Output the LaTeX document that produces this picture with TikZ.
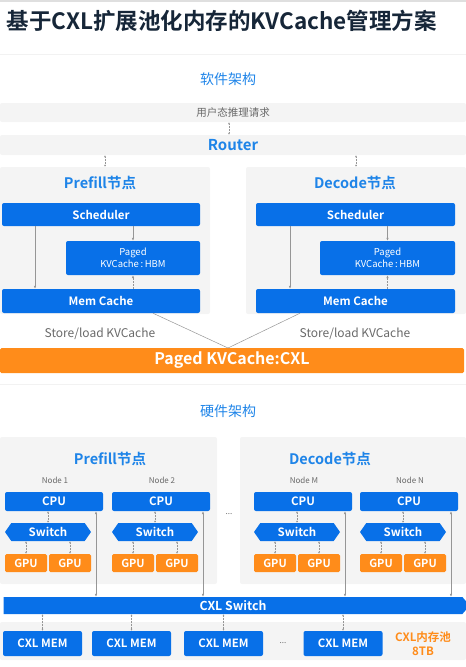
\documentclass[tikz,border=0pt]{standalone}
\usepackage{fontspec}
\setmainfont{Noto Sans CJK SC}[BoldFont={Noto Sans CJK SC Bold}]
\usetikzlibrary{arrows.meta,shapes.symbols}
\definecolor{hwblue}{RGB}{8,112,232}
\definecolor{headblue}{RGB}{30,132,232}
\definecolor{hworange}{RGB}{255,140,26}
\definecolor{panelgray}{RGB}{244,244,244}
\definecolor{titlenavy}{RGB}{22,38,56}
\definecolor{txtgray}{RGB}{105,105,105}
\definecolor{lngray}{RGB}{150,150,150}
\tikzset{blk/.style={fill=hwblue,rounded corners=2pt,text=white,inner sep=0pt,
    font=\bfseries\fontsize{11.5}{13}\selectfont},
  gpu/.style={fill=hworange,rounded corners=1.5pt,text=white,inner sep=0pt,
    minimum width=42,minimum height=18,font=\bfseries\fontsize{11}{13}\selectfont},
  sw/.style={fill=hwblue,signal,signal to=east and west,signal pointer angle=110,
    text=white,inner sep=0pt,minimum width=86,minimum height=18,
    font=\bfseries\fontsize{11.5}{13}\selectfont},
  panel/.style={fill=panelgray,rounded corners=2pt,inner sep=0pt},
  head/.style={text=headblue,font=\fontsize{14}{16}\selectfont},
  headb/.style={text=headblue,font=\bfseries\fontsize{14.5}{16}\selectfont},
  lbl/.style={text=txtgray,font=\fontsize{12}{14}\selectfont},
  nlbl/.style={text=txtgray,font=\fontsize{8}{9}\selectfont},
  arr/.style={-{Latex[length=3pt,width=2.4pt]},lngray,line width=.5pt},
  dblarr/.style={{Latex[length=2pt,width=2pt]}-{Latex[length=2pt,width=2pt]},lngray,
    line width=.5pt,densely dotted},
  busarr/.style={{Latex[length=3pt,width=2.4pt]}-{Latex[length=3pt,width=2.4pt]},lngray,
    line width=.5pt}}

\begin{document}
\begin{tikzpicture}[x=1pt,y=-1pt]
  \path[use as bounding box] (0,0) rectangle (466,667);
  \draw[gray!25,line width=2pt] (0,1)--(466,1);
  \draw[gray!10] (0,54)--(466,54); \draw[gray!10] (0,384)--(466,384);
  \node[anchor=west,text=titlenavy,font=\bfseries\fontsize{22.5}{25}\selectfont] (title) at (3,21)
    {基于CXL扩展池化内存的KVCache管理方案};

  \node[head] (swhead) at (228,79) {软件架构};
  \node[panel,minimum width=466,minimum height=19,text=txtgray,
    font=\fontsize{10.5}{12}\selectfont] (req) at (233,112.5) {用户态推理请求};
  \node[panel,minimum width=466,minimum height=20,text=headblue,
    font=\bfseries\fontsize{15}{17}\selectfont] (router) at (233,145) {Router};
  \draw[dblarr] (req.south -| 229,0) -- (router.north -| 229,0);

  \node[panel,minimum width=210,minimum height=147] (swpre) at (105,240.5) {};
  \node[panel,minimum width=220,minimum height=147] (swdec) at (356,240.5) {};
  \draw[dblarr] (router.south -| swpre) -- (swpre.north);
  \draw[dblarr] (router.south -| swdec) -- (swdec.north);

  \node[headb] (prehd) at (100,183) {Prefill节点};
  \node[blk,minimum width=198,minimum height=23] (sch1) at (101,214.5) {Scheduler};
  \node[blk,minimum width=134,minimum height=34,align=center,
    font=\fontsize{9.5}{12}\selectfont] (hbm1) at (133,258) {Paged\\KVCache\,:\,HBM};
  \node[blk,minimum width=198,minimum height=24] (mem1) at (101,301) {Mem Cache};
  \coordinate (l1) at (35,0);
  \draw[arr] (sch1.south -| l1) -- (mem1.north -| l1);
  \draw[arr] (sch1.south -| hbm1) -- (hbm1.north);
  \draw[arr,densely dotted] (mem1.north -| hbm1) -- (hbm1.south);

  \node[headb] (dechd) at (355,183) {Decode节点};
  \node[blk,minimum width=199,minimum height=23] (sch2) at (355.5,214.5) {Scheduler};
  \node[blk,minimum width=135,minimum height=34,align=center,
    font=\fontsize{9.5}{12}\selectfont] (hbm2) at (387.5,258) {Paged\\KVCache\,:\,HBM};
  \node[blk,minimum width=199,minimum height=24] (mem2) at (355.5,301) {Mem Cache};
  \coordinate (l2) at (290,0);
  \draw[arr] (sch2.south -| l2) -- (mem2.north -| l2);
  \draw[arr] (sch2.south -| hbm2) -- (hbm2.north);
  \draw[arr,densely dotted] (mem2.north -| hbm2) -- (hbm2.south);

  \node[lbl] (sl1) at (100,334) {Store/load KVCache};
  \node[lbl] (sl2) at (355,334) {Store/load KVCache};
  \node[fill=hworange,rounded corners=1.5pt,minimum width=464,minimum height=25,inner sep=0pt,
    text=white,font=\bfseries\fontsize{16}{18}\selectfont] (cxlkv) at (232,360.5) {Paged KVCache:CXL};
  \coordinate (meet) at (228,348);
  \coordinate (m1) at (153,0); \coordinate (m2) at (300,0);
  \draw[lngray,line width=.5pt] (mem1.south -| m1) -- (meet) -- (mem2.south -| m2);

  \node[head] (hwhead) at (228,411) {硬件架构};
  \node[panel,minimum width=217,minimum height=147] (hwpre) at (108.5,510.5) {};
  \node[panel,minimum width=226,minimum height=147] (hwdec) at (353,510.5) {};
  \node[headb] (prehw) at (110,459) {Prefill节点};
  \node[headb] (dechw) at (330,459) {Decode节点};
  \node[nlbl] (gapdots) at (229,514) {...};

  \node[sw,signal to=east,signal from=nowhere,signal pointer angle=100,minimum width=466,
    minimum height=17,font=\bfseries\fontsize{12.3}{14}\selectfont] (cxlsw) at (233,605.5) {CXL Switch};

  \foreach \n/\x/\lab in {a/5/Node 1,b/112/Node 2,m/254/Node M,z/360/Node N}{
    \node[nlbl] (lab\n) at (\x+50,480) {\lab};
    \node[blk,minimum width=98,minimum height=19,font=\bfseries\fontsize{11.5}{13}\selectfont]
      (cpu\n) at (\x+49,501.5) {CPU};
    \node[sw] (sw\n) at (\x+43,532) {Switch};
    \node[gpu] (ga\n) at (\x+21,563) {GPU};
    \node[gpu] (gb\n) at (\x+65,563) {GPU};
    \draw[dblarr] (cpu\n.south -| sw\n) -- (sw\n.north);
    \draw[dblarr] (sw\n.south -| ga\n) -- (ga\n.north);
    \draw[dblarr] (sw\n.south -| gb\n) -- (gb\n.north);
    \coordinate (v\n) at (\x+91,0);
    \draw[busarr] (cpu\n.south -| v\n) -- (cxlsw.north -| v\n);
  }

  \node[panel,minimum width=466,minimum height=38] (memp) at (233,641) {};
  \foreach \n/\x in {1/42.5,2/131.5,3/223.5,4/343}{
    \node[blk,minimum width=79,minimum height=25,font=\bfseries\fontsize{11.4}{13}\selectfont]
      (cm\n) at (\x,643.5) {CXL MEM};
    \draw[dblarr] (cxlsw.south -| cm\n) -- (cm\n.north);
  }
  \node[nlbl] (memdots) at (283,643) {...};
  \node[align=center,text=hworange,font=\bfseries\fontsize{11.5}{14}\selectfont] (pool) at (423,644)
    {CXL内存池\\8TB};
\end{tikzpicture}
\end{document}
